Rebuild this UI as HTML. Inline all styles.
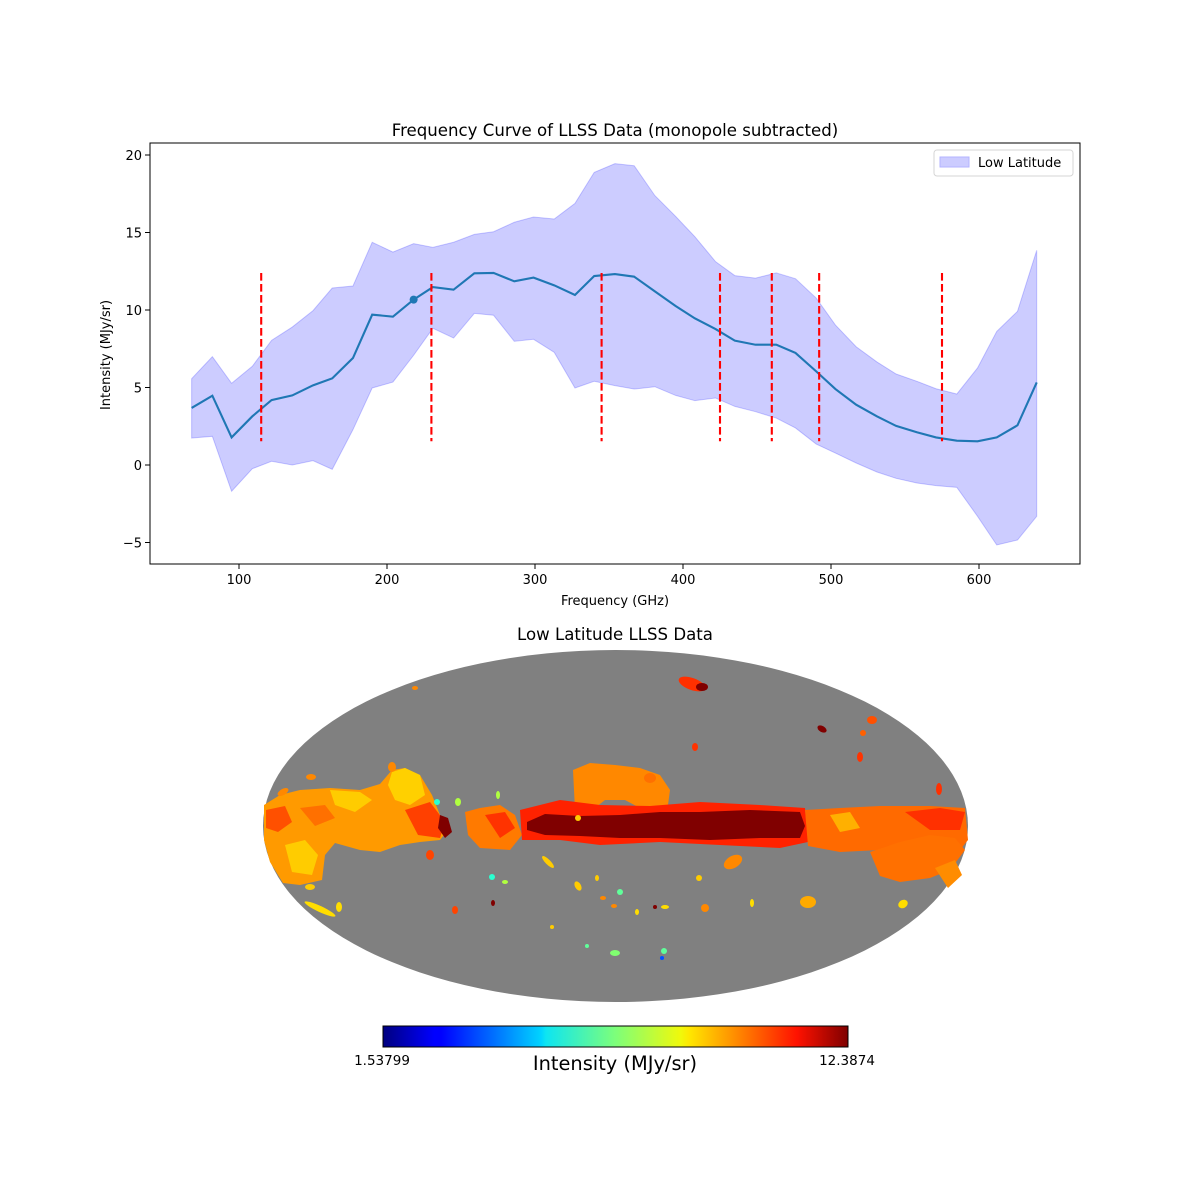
<!DOCTYPE html>
<html><head><meta charset="utf-8"><style>
body{margin:0;background:#fff;}
svg{display:block;font-family:"DejaVu Sans","Liberation Sans",sans-serif;}
</style></head><body>
<svg id="fig" width="1200" height="1200" viewBox="0 0 1200 1200" xmlns="http://www.w3.org/2000/svg">
<rect width="1200" height="1200" fill="#fff"/>
<text x="615" y="136" font-size="16.6" text-anchor="middle">Frequency Curve of LLSS Data (monopole subtracted)</text>
<g id="chart"></g>
<text x="615" y="605" font-size="13" text-anchor="middle">Frequency (GHz)</text>
<text x="0" y="0" font-size="13" text-anchor="middle" transform="translate(110,355) rotate(-90)">Intensity (MJy/sr)</text>
<g>
<rect x="934" y="150" width="139" height="26" rx="3" fill="#fff" stroke="#d6d6d6"/>
<rect x="940" y="157" width="29" height="10" fill="#ccccff" stroke="#b3b3ff"/>
<text x="978" y="167" font-size="13">Low Latitude</text>
</g>

<text x="615" y="640" font-size="16.6" text-anchor="middle">Low Latitude LLSS Data</text>
<g>
<ellipse cx="615.5" cy="826" rx="352.5" ry="176" fill="#808080"/>
<g>
<polygon fill="#ff9a00" points="264,805 280,795 300,790 330,788 360,790 380,784 392,770 405,768 420,775 432,795 440,815 448,830 440,840 420,842 400,845 380,852 360,850 335,843 325,855 322,880 300,885 283,883 270,862 264,840"/>
<polygon fill="#ffd000" points="392,772 405,768 420,775 425,795 410,805 395,800 388,785"/>
<polygon fill="#ffcc00" points="330,790 360,792 372,800 355,812 335,805"/>
<polygon fill="#ffcc00" points="285,845 305,840 318,855 312,875 292,872"/>
<polygon fill="#ff4000" points="405,810 430,802 445,822 440,838 418,835"/>
<polygon fill="#ff5000" points="266,810 285,806 292,822 278,832 266,828"/>
<polygon fill="#ff7000" points="300,808 325,805 335,818 315,826"/>
<polygon fill="#800000" points="440,815 448,818 452,832 445,838 438,828"/>
<polygon fill="#ff7a00" points="465,812 480,808 500,805 515,815 522,835 510,850 480,848 468,835"/>
<polygon fill="#ff3300" points="485,815 505,812 515,828 500,838"/>
<polygon fill="#ff8800" points="573,770 590,763 615,765 640,768 660,775 670,790 668,805 640,808 625,800 605,800 590,812 575,810"/>
<polygon fill="#ff2200" points="520,810 560,800 600,805 650,806 700,802 760,805 805,808 808,842 780,848 720,845 660,842 600,845 560,840 522,840"/>
<polygon fill="#800000" points="527,822 545,814 580,816 620,815 660,812 700,812 750,810 800,812 805,826 800,838 760,838 710,840 660,838 620,838 580,836 545,835 527,830"/>
<polygon fill="#ff6a00" points="805,810 840,808 880,806 930,806 965,808 968,840 960,850 930,848 880,850 840,852 808,846"/>
<polygon fill="#ff3000" points="905,812 940,808 965,812 960,830 930,830"/>
<polygon fill="#ff7000" points="870,852 900,842 930,835 955,838 965,850 950,870 930,878 900,882 880,876"/>
<polygon fill="#ff8c00" points="935,868 955,860 962,875 948,888"/>
<polygon fill="#ffb000" points="830,815 850,812 860,828 840,832"/>
<circle cx="578" cy="818" r="3" fill="#ffcc00"/>
</g>
<g>
<ellipse cx="692" cy="684" rx="14" ry="6" fill="#ff3000" transform="rotate(20 692 684)"/>
<ellipse cx="702" cy="687" rx="6" ry="4" fill="#800000"/>
<ellipse cx="415" cy="688" rx="3" ry="2" fill="#ff8800"/>
<ellipse cx="822" cy="729" rx="5" ry="3" fill="#800000" transform="rotate(30 822 729)"/>
<ellipse cx="872" cy="720" rx="5" ry="4" fill="#ff5000"/>
<ellipse cx="695" cy="747" rx="3" ry="4" fill="#ff3300"/>
<ellipse cx="860" cy="757" rx="3" ry="5" fill="#ff3300"/>
<ellipse cx="939" cy="789" rx="3" ry="6" fill="#ff3000"/>
<ellipse cx="863" cy="733" rx="3" ry="3" fill="#ff6000"/>
<ellipse cx="311" cy="777" rx="5" ry="3" fill="#ff8800"/>
<ellipse cx="283" cy="792" rx="6" ry="3" fill="#ff8800" transform="rotate(-30 283 792)"/>
<ellipse cx="392" cy="767" rx="4" ry="5" fill="#ff8800"/>
<ellipse cx="430" cy="855" rx="4" ry="5" fill="#ff4400"/>
<ellipse cx="310" cy="887" rx="5" ry="3" fill="#ffcc00"/>
<ellipse cx="320" cy="909" rx="17" ry="3" fill="#ffdd00" transform="rotate(25 320 909)"/>
<ellipse cx="339" cy="907" rx="3" ry="5" fill="#ffdd00"/>
<ellipse cx="455" cy="910" rx="3" ry="4" fill="#ff4400"/>
<ellipse cx="493" cy="903" rx="2" ry="3" fill="#800000"/>
<ellipse cx="492" cy="877" rx="3" ry="3" fill="#2affd0"/>
<ellipse cx="505" cy="882" rx="3" ry="2" fill="#b0ff40"/>
<ellipse cx="458" cy="802" rx="3" ry="4" fill="#b0ff40"/>
<ellipse cx="498" cy="795" rx="2" ry="4" fill="#b0ff40"/>
<ellipse cx="437" cy="802" rx="3" ry="3" fill="#2affd0"/>
<ellipse cx="548" cy="862" rx="8" ry="2.5" fill="#ffcc00" transform="rotate(45 548 862)"/>
<ellipse cx="552" cy="927" rx="2" ry="2" fill="#ffcc00"/>
<ellipse cx="578" cy="886" rx="3" ry="5" fill="#ffcc00" transform="rotate(-30 578 886)"/>
<ellipse cx="597" cy="878" rx="2" ry="3" fill="#ffcc00"/>
<ellipse cx="603" cy="898" rx="3" ry="2" fill="#ff8800"/>
<ellipse cx="620" cy="892" rx="3" ry="3" fill="#60ff9a"/>
<ellipse cx="614" cy="906" rx="3" ry="2" fill="#ff8800"/>
<ellipse cx="637" cy="912" rx="2" ry="3" fill="#ffdd00"/>
<ellipse cx="655" cy="907" rx="2" ry="2" fill="#800000"/>
<ellipse cx="665" cy="907" rx="4" ry="2" fill="#ffdd00"/>
<ellipse cx="705" cy="908" rx="4" ry="4" fill="#ff8800"/>
<ellipse cx="699" cy="878" rx="3" ry="3" fill="#ffcc00"/>
<ellipse cx="733" cy="862" rx="10" ry="6" fill="#ff8800" transform="rotate(-30 733 862)"/>
<ellipse cx="752" cy="903" rx="2" ry="4" fill="#ffdd00"/>
<ellipse cx="808" cy="902" rx="8" ry="6" fill="#ffaa00"/>
<ellipse cx="903" cy="904" rx="5" ry="4" fill="#ffdd00" transform="rotate(-30 903 904)"/>
<ellipse cx="587" cy="946" rx="2" ry="2" fill="#60ff9a"/>
<ellipse cx="615" cy="953" rx="5" ry="3" fill="#80ff70"/>
<ellipse cx="664" cy="951" rx="3" ry="3" fill="#60ff9a"/>
<ellipse cx="662" cy="958" rx="2" ry="2" fill="#0050ff"/>
<ellipse cx="650" cy="778" rx="6" ry="5" fill="#ff7000"/>
</g>
</g>

<defs>
<linearGradient id="jet" x1="0" x2="1" y1="0" y2="0">
<stop offset="0" stop-color="#00007f"/>
<stop offset="0.11" stop-color="#0000ff"/>
<stop offset="0.125" stop-color="#0000ff"/>
<stop offset="0.34" stop-color="#00d4ff"/>
<stop offset="0.35" stop-color="#0de5f2"/>
<stop offset="0.5" stop-color="#7dff7a"/>
<stop offset="0.64" stop-color="#f0f90b"/>
<stop offset="0.66" stop-color="#ffe600"/>
<stop offset="0.89" stop-color="#ff1200"/>
<stop offset="1" stop-color="#7f0000"/>
</linearGradient>
</defs>
<g>
<rect x="383" y="1026" width="465" height="21" fill="url(#jet)" stroke="#000" stroke-width="1"/>
<text x="382" y="1065" font-size="13.5" text-anchor="middle">1.53799</text>
<text x="847" y="1065" font-size="13.5" text-anchor="middle">12.3874</text>
<text x="615" y="1070" font-size="19.4" text-anchor="middle">Intensity (MJy/sr)</text>
</g>
</svg>
<script>
const freqs = [68,82,95,109,122,136,150,163,177,190,204,218,231,245,259,272,286,299,313,327,340,354,367,381,395,408,422,435,449,463,476,490,503,517,531,544,558,571,585,599,612,626,639];
const meanVals = [3.68,4.47,1.78,3.14,4.19,4.49,5.14,5.59,6.90,9.70,9.57,10.67,11.48,11.31,12.37,12.39,11.85,12.09,11.59,10.97,12.19,12.32,12.15,11.20,10.26,9.46,8.77,8.02,7.76,7.76,7.23,6.04,4.90,3.89,3.14,2.52,2.11,1.78,1.57,1.53,1.78,2.56,5.33];
const upperVals = [5.57,6.99,5.27,6.37,8.04,8.90,9.96,11.42,11.55,14.37,13.74,14.28,14.04,14.37,14.88,15.05,15.66,16.00,15.87,16.88,18.88,19.44,19.31,17.38,16.04,14.73,13.12,12.22,12.06,12.39,12.02,10.77,9.03,7.63,6.65,5.87,5.40,4.92,4.58,6.26,8.62,9.91,13.85];
const lowerVals = [1.74,1.85,-1.70,-0.24,0.24,0.00,0.28,-0.28,2.28,4.97,5.35,7.08,8.82,8.19,9.78,9.66,7.98,8.11,7.27,4.97,5.40,5.12,4.90,5.05,4.49,4.15,4.32,3.78,3.44,3.03,2.39,1.35,0.77,0.13,-0.45,-0.86,-1.16,-1.33,-1.44,-3.31,-5.16,-4.84,-3.31];
const lineFreqs = [115,230,345,425,460,492,575];
const highlightIndex = [11];
const xTicks = [100,200,300,400,500,600];
const yTicks = [-5,0,5,10,15,20];

const NS = 'http://www.w3.org/2000/svg';
const L = 150, R = 1080, T = 143, B = 564;
function xs(v){ return 239 + (v - 100) * 1.48; }
function ys(v){ return 465 - v * 15.5; }
const g = document.getElementById('chart');
function mk(tag, attrs){ const e = document.createElementNS(NS, tag); for (const k in attrs) e.setAttribute(k, attrs[k]); g.appendChild(e); return e; }

let pts = freqs.map((f,i)=>xs(f)+','+ys(upperVals[i]));
for (let i = freqs.length-1; i >= 0; i--) pts.push(xs(freqs[i])+','+ys(lowerVals[i]));
const band = mk('polygon', {points: pts.join(' '), fill:'#0000ff', 'fill-opacity':0.2, stroke:'#0000ff', 'stroke-opacity':0.2, 'stroke-width':1});



const line = mk('polyline', {points: freqs.map((f,i)=>xs(f)+','+ys(meanVals[i])).join(' '), fill:'none', stroke:'#1f77b4', 'stroke-width':2.1});



highlightIndex.forEach(i=>{
  const c = mk('circle', {cx: xs(freqs[i]), cy: ys(meanVals[i]), r: 4, fill:'#1f77b4'});
  
  
});

const mn = Math.min(...meanVals), mx = Math.max(...meanVals);
lineFreqs.forEach(f=>{
  const l = mk('line', {x1: xs(f), x2: xs(f), y1: ys(mx), y2: ys(mn), stroke:'#ff0000', 'stroke-width':2.1, 'stroke-dasharray':'7.7 3.3'});
  
  
});

const fr = mk('rect', {x:L, y:T, width:R-L, height:B-T, fill:'none', stroke:'#000', 'stroke-width':1});



xTicks.forEach(t=>{
  const tk = mk('line', {x1: xs(t), x2: xs(t), y1: B, y2: B+5, stroke:'#000', 'stroke-width':1});
  
  
  const tx = mk('text', {x: xs(t), y: B+20, 'font-size':13, 'text-anchor':'middle'});
  tx.textContent = t;
  
  
});
yTicks.forEach(t=>{
  const tk = mk('line', {x1: L-5, x2: L, y1: ys(t), y2: ys(t), stroke:'#000', 'stroke-width':1});
  
  
  const tx = mk('text', {x: L-8, y: ys(t)+5, 'font-size':13, 'text-anchor':'end'});
  tx.textContent = t < 0 ? '\u2212' + Math.abs(t) : t;
  
  
});
</script>
</body></html>
